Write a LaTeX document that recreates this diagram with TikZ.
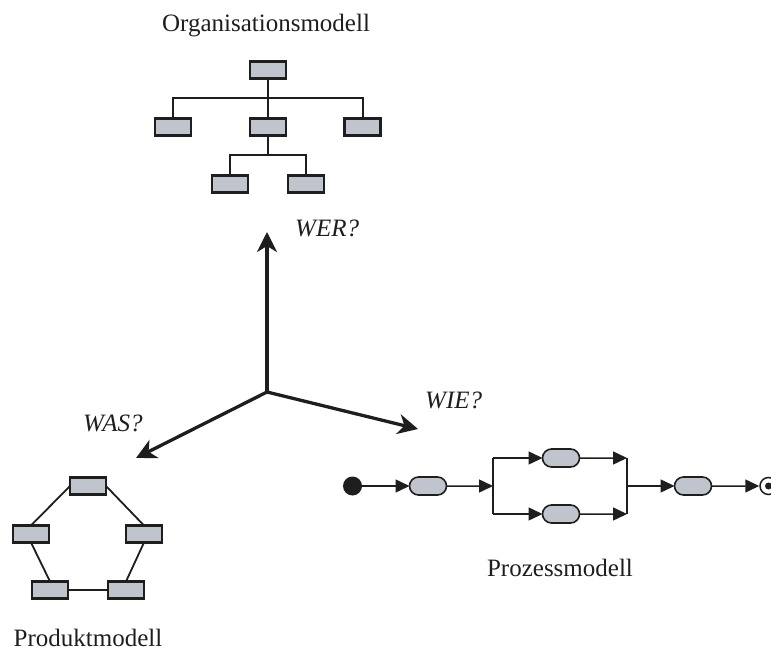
\documentclass[tikz,border=0pt]{standalone}
\usepackage{fontspec}
\setmainfont{Liberation Serif}
\usetikzlibrary{arrows.meta,shapes.misc}
\definecolor{boxfill}{RGB}{192,196,204}
\definecolor{ink}{RGB}{30,30,30}
\begin{document}
\begin{tikzpicture}[x=1pt,y=-1pt,
  box/.style={draw=ink, line width=2.4pt, fill=boxfill, minimum width=36pt,
    minimum height=17pt, inner sep=0pt, outer sep=0pt},
  pill/.style={rounded rectangle, draw=ink, line width=1.6pt, fill=boxfill,
    minimum width=37pt, minimum height=18pt, inner sep=0pt, outer sep=0pt},
  link/.style={draw=ink, line width=2pt},
  plink/.style={draw=ink, line width=1.8pt},
  bar/.style={draw=ink, line width=1.5pt},
  flow/.style={draw=ink, line width=1.5pt, -{Triangle[length=14pt,width=13pt]}},
  axis/.style={draw=ink, line width=3.3pt, -{Stealth[length=20pt,width=20pt,inset=6pt]}},
  caption/.style={font=\fontsize{25}{28}\selectfont, text=ink, inner sep=0pt, anchor=base},
  question/.style={caption, font=\fontsize{25}{28}\selectfont\itshape, anchor=base west}]
\useasboundingbox (0,0) rectangle (771,652);

% organisation chart
\node[caption] (torg) at (266,32) {Organisationsmodell};
\node[box] (o0) at (268,70) {};
\node[box] (o1) at (173,127) {};
\node[box] (o2) at (268,127) {};
\node[box] (o3) at (362.5,127) {};
\node[box] (o4) at (230,184) {};
\node[box] (o5) at (306,184) {};
\coordinate (b1) at (268,98);
\coordinate (b2) at (268,155);
\draw[link] (o0.south) -- (o2.north);
\draw[link] (o1.north) |- (b1) -| (o3.north);
\draw[link] (o2.south) -- (b2);
\draw[link] (o4.north) |- (b2) -| (o5.north);

% three axes
\coordinate (O) at (267,392);
\coordinate (wer) at (267,232);
\coordinate (wie) at (418,429);
\coordinate (was) at (136,458);
\draw[axis] (O) -- (wer);
\draw[axis] (O) -- (wie);
\draw[axis] (O) -- (was);
\node[question] (qwer) at (295,237) {WER?};
\node[question] (qwas) at (83,431) {WAS?};
\node[question] (qwie) at (425,408) {WIE?};

% product model (ring of parts)
\node[box] (p1) at (88,486) {};
\node[box] (p2) at (31,534) {};
\node[box] (p3) at (144,534) {};
\node[box] (p4) at (50,590) {};
\node[box] (p5) at (126,590) {};
\draw[plink] (p1.west) -- (p2.north);
\draw[plink] (p1.east) -- (p3.north);
\draw[plink] (p2.south) -- (p4.north);
\draw[plink] (p3.south) -- (p5.north);
\draw[plink] (p4.east) -- (p5.west);
\node[caption] (tprod) at (88,646) {Produktmodell};

% process model
\node[circle, fill=ink, minimum size=19pt, inner sep=0pt] (s) at (352.5,486) {};
\node[pill] (a1) at (428,486) {};
\node[pill] (a2) at (561,458) {};
\node[pill] (a3) at (561,514) {};
\node[pill] (a4) at (693,486) {};
\node[circle, draw=ink, line width=1.5pt, fill=white, minimum size=17pt, inner sep=0pt] (e) at (768.5,486) {};
\node[circle, fill=ink, minimum size=7pt, inner sep=0pt] (ed) at (e.center) {};
\coordinate (f0) at (493,486);
\coordinate (f1) at (493,458);
\coordinate (f2) at (493,514);
\coordinate (j0) at (627,486);
\coordinate (j1) at (627,458);
\coordinate (j2) at (627,514);
\draw[flow] (s) -- (a1);
\draw[flow] (a1) -- (f0);
\draw[bar] (f1) -- (f2);
\draw[flow] (f1) -- (a2);
\draw[flow] (f2) -- (a3);
\draw[flow] (a2) -- (j1);
\draw[flow] (a3) -- (j2);
\draw[bar] (j1) -- (j2);
\draw[flow] (j0) -- (a4);
\draw[flow] (a4) -- (e);
\node[caption] (tproc) at (560,576) {Prozessmodell};
\end{tikzpicture}
\end{document}
